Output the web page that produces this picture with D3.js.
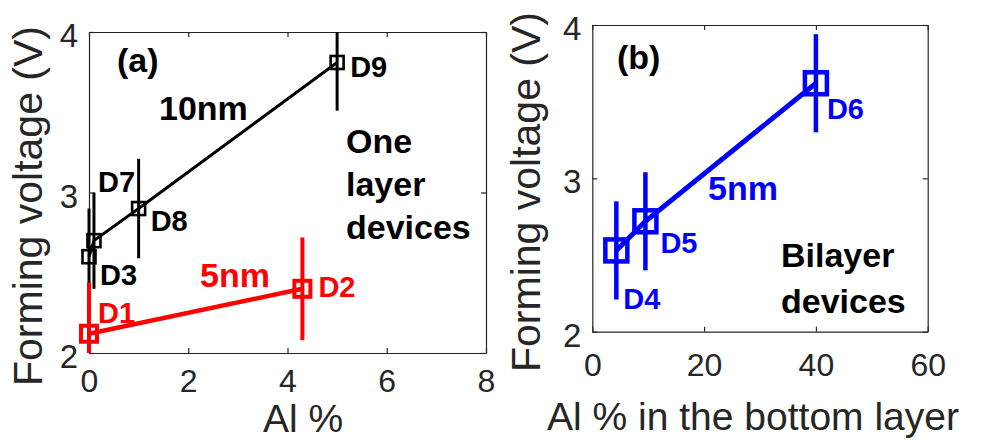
<!DOCTYPE html>
<html>
<head>
<meta charset="utf-8">
<script src="https://cdn.jsdelivr.net/npm/d3@7"></script>
<style>
  html, body { margin: 0; padding: 0; background: #fff; }
  svg { display: block; }
  text { font-family: "Liberation Sans", Arial, Helvetica, sans-serif; }
</style>
</head>
<body>
<svg id="chart" width="982" height="440"></svg>
<script>
// ---------- DATA ----------
// Panel (a): one-layer devices
const tenNmNames = ["D3", "D7", "D8", "D9"];
const tenNmAl = [0.0, 0.1, 1.0, 5.0];
const tenNmV = [2.60, 2.70, 2.90, 3.81];
const tenNmErr = [0.30, 0.30, 0.31, 0.30];

const fiveNmNames = ["D1", "D2"];
const fiveNmAl = [0.0, 4.3];
const fiveNmV = [2.12, 2.40];
const fiveNmErr = [0.32, 0.32];

// Panel (b): bilayer devices
const biNames = ["D4", "D5", "D6"];
const biAl = [4.3, 9.5, 40.0];
const biV = [2.53, 2.72, 3.62];
const biErr = [0.32, 0.32, 0.32];

// Ticks
const aXTicks = [0, 2, 4, 6, 8];
const bXTicks = [0, 20, 40, 60];
const yTicks = [2, 3, 4];

// ---------- DRAW ----------
const svg = d3.select("#chart");
const axisColor = "#262626";

function makePanel(cfg) {
  const x = d3.scaleLinear().domain(cfg.xDomain).range([cfg.left, cfg.right]);
  const y = d3.scaleLinear().domain([2, 4]).range([cfg.bottom, cfg.top]);
  const g = svg.append("g");

  const tick = 5;
  const bottomAxis = d3.axisBottom(x).tickValues(cfg.xTicks).tickSizeInner(-tick).tickSizeOuter(0).tickFormat(d3.format("d"));
  const topAxis = d3.axisTop(x).tickValues(cfg.xTicks).tickSizeInner(-tick).tickSizeOuter(0).tickFormat("");
  const leftAxis = d3.axisLeft(y).tickValues(yTicks).tickSizeInner(-tick).tickSizeOuter(0).tickFormat(d3.format("d"));
  const rightAxis = d3.axisRight(y).tickValues(yTicks).tickSizeInner(-tick).tickSizeOuter(0).tickFormat("");

  const gb = g.append("g").attr("transform", `translate(0,${cfg.bottom})`).call(bottomAxis);
  const gt = g.append("g").attr("transform", `translate(0,${cfg.top})`).call(topAxis);
  const gl = g.append("g").attr("transform", `translate(${cfg.left},0)`).call(leftAxis);
  const gr = g.append("g").attr("transform", `translate(${cfg.right},0)`).call(rightAxis);
  [gb, gt, gl, gr].forEach(a => {
    a.select(".domain").attr("stroke", axisColor).attr("stroke-width", 1.2);
    a.selectAll(".tick line").attr("stroke", axisColor).attr("stroke-width", 1.2);
  });
  gb.selectAll(".tick text").attr("y", cfg.xTickY).attr("dy", 0)
    .attr("font-size", 32).attr("fill", axisColor).style("font-family", '"Liberation Sans", Arial, sans-serif');
  gl.selectAll(".tick text").attr("x", -11).attr("dy", "0.35em").attr("y", 3)
    .attr("font-size", 33).attr("fill", axisColor).style("font-family", '"Liberation Sans", Arial, sans-serif');

  g.append("text").attr("x", cfg.xTitleX).attr("y", cfg.xTitleY).attr("text-anchor", "middle")
    .attr("font-size", 39).attr("fill", axisColor).text(cfg.xTitle);
  g.append("text").attr("transform", `translate(${cfg.yTitleX},${cfg.yTitleY}) rotate(-90)`)
    .attr("text-anchor", "middle").attr("font-size", 41).attr("fill", axisColor).text("Forming voltage (V)");

  return { x, y, g };
}

function drawSeries(p, names, xs, ys, errs, style) {
  const yc = p.y.copy().clamp(true);
  const pts = names.map((n, i) => ({ n, x: xs[i], y: ys[i], e: errs[i] }));
  p.g.append("g").selectAll("line").data(pts).join("line")
    .attr("x1", d => p.x(d.x)).attr("x2", d => p.x(d.x))
    .attr("y1", d => yc(d.y - d.e)).attr("y2", d => yc(d.y + d.e))
    .attr("stroke", style.color).attr("stroke-width", style.ebWidth);
  p.g.append("path").datum(pts)
    .attr("d", d3.line().x(d => p.x(d.x)).y(d => p.y(d.y)))
    .attr("fill", "none").attr("stroke", style.color).attr("stroke-width", style.lineWidth);
  const s = style.marker;
  p.g.append("g").selectAll("rect").data(pts).join("rect")
    .attr("x", d => p.x(d.x) - s / 2).attr("y", d => p.y(d.y) - s / 2)
    .attr("width", s).attr("height", s)
    .attr("fill", "none").attr("stroke", style.color).attr("stroke-width", style.markerWidth);
  p.g.append("g").selectAll("text").data(pts).join("text")
    .attr("x", d => p.x(d.x) + style.offsets[d.n][0])
    .attr("y", d => p.y(d.y) + style.offsets[d.n][1])
    .attr("font-size", 29).attr("font-weight", "bold").attr("fill", style.color)
    .text(d => d.n);
}

function label(g, x, y, txt, color, size) {
  g.append("text").attr("x", x).attr("y", y).attr("font-size", size || 34)
    .attr("font-weight", "bold").attr("fill", color).text(txt);
}

// Panel (a)
const pa = makePanel({
  xDomain: [0, 8], xTicks: aXTicks, left: 89, right: 486, top: 32, bottom: 353,
  xTickY: 39, xTitle: "Al %", xTitleX: 303, xTitleY: 432, yTitleX: 42, yTitleY: 206
});
drawSeries(pa, tenNmNames, tenNmAl, tenNmV, tenNmErr, {
  color: "#000000", ebWidth: 3, lineWidth: 3, marker: 13, markerWidth: 2.6,
  offsets: { D3: [11, 28], D7: [4, -49], D8: [12, 22], D9: [13, 15] }
});
drawSeries(pa, fiveNmNames, fiveNmAl, fiveNmV, fiveNmErr, {
  color: "#ff0000", ebWidth: 4, lineWidth: 4.5, marker: 16, markerWidth: 4,
  offsets: { D1: [9, -11], D2: [16, 8] }
});
label(pa.g, 117, 72, "(a)", "#000000", 34);
label(pa.g, 159, 120, "10nm", "#000000", 34);
label(pa.g, 200, 287, "5nm", "#ff0000", 34);
label(pa.g, 346, 153, "One", "#000000", 34);
label(pa.g, 346, 196, "layer", "#000000", 34);
label(pa.g, 346, 239, "devices", "#000000", 34);

// Panel (b)
const pb = makePanel({
  xDomain: [0, 60], xTicks: bXTicks, left: 592.3, right: 927.7, top: 25, bottom: 331.7,
  xTickY: 44, xTitle: "Al % in the bottom layer", xTitleX: 753, xTitleY: 430, yTitleX: 540, yTitleY: 192
});
drawSeries(pb, biNames, biAl, biV, biErr, {
  color: "#0000ff", ebWidth: 4.5, lineWidth: 5, marker: 22, markerWidth: 4.5,
  offsets: { D4: [7, 59], D5: [15, 32], D6: [11, 36] }
});
label(pb.g, 617, 69, "(b)", "#000000", 34);
label(pb.g, 708, 200, "5nm", "#0000ff", 34);
label(pb.g, 781, 267, "Bilayer", "#000000", 34);
label(pb.g, 781, 313, "devices", "#000000", 34);
</script>
</body>
</html>
